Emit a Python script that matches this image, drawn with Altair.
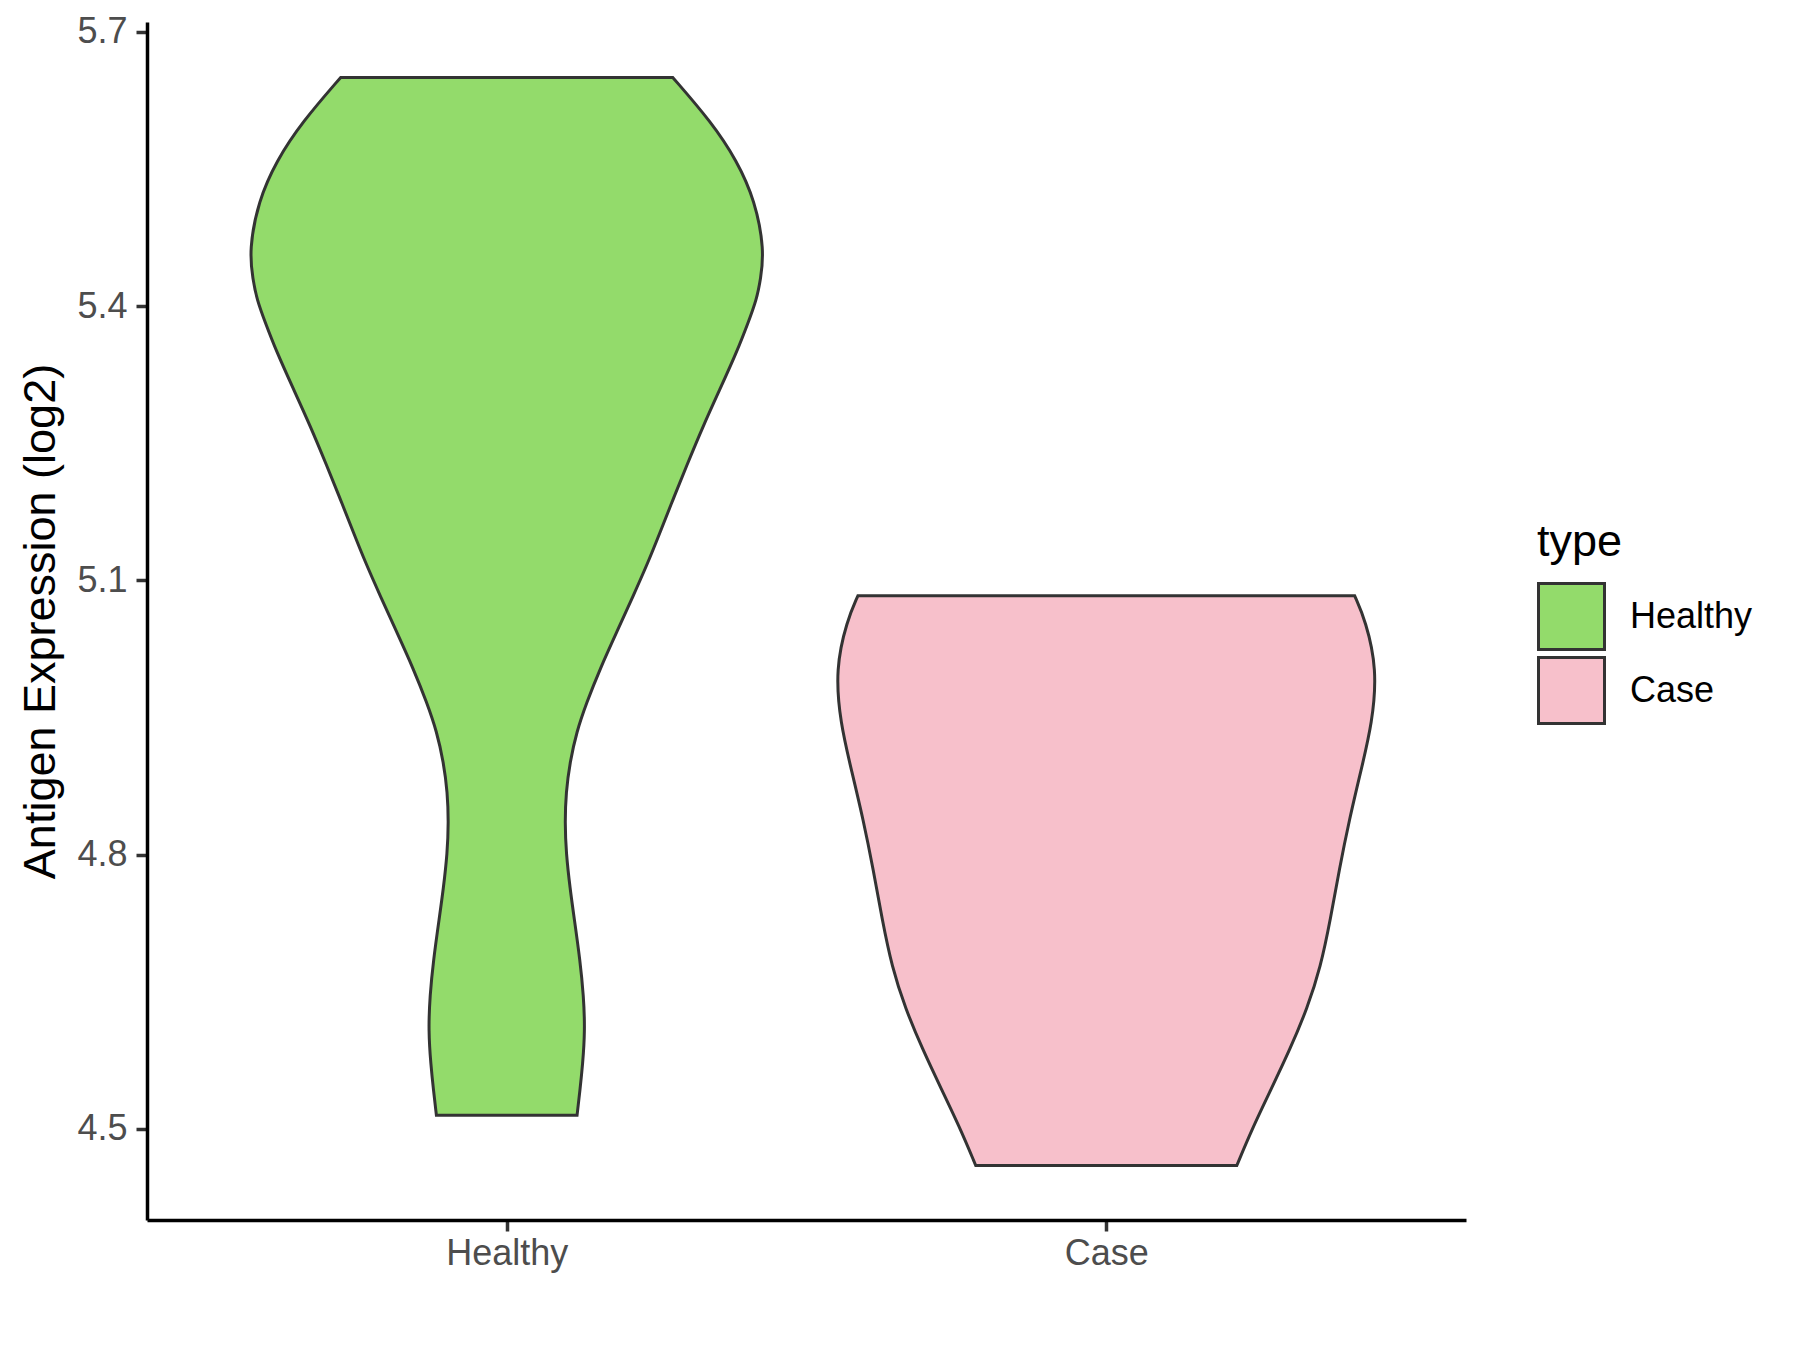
import altair as alt
import pandas as pd

# ---- data (value in log2, half-width in category units) ----
healthy_y = [5.650, 5.601, 5.559, 5.515, 5.461, 5.429, 5.407, 5.382, 5.349, 5.309,
             5.269, 5.225, 5.189, 5.152, 5.120, 5.083, 5.043, 5.003, 4.966, 4.934,
             4.901, 4.868, 4.835, 4.802, 4.762, 4.731, 4.684, 4.646, 4.608, 4.570,
             4.542, 4.515]
healthy_hw = [0.2769, 0.3416, 0.3840, 0.4143, 0.4297, 0.4234, 0.4167, 0.4028, 0.3833, 0.3556,
              0.3278, 0.2999, 0.2777, 0.2555, 0.2360, 0.2110, 0.1832, 0.1555, 0.1331, 0.1164,
              0.1054, 0.0988, 0.0971, 0.0990, 0.1058, 0.1124, 0.1224, 0.1281, 0.1306, 0.1266,
              0.1221, 0.1173]

case_y = [5.083, 5.056, 5.003, 4.944, 4.891, 4.838, 4.784, 4.730, 4.677, 4.632,
          4.587, 4.543, 4.499, 4.460]
case_hw = [0.4143, 0.4325, 0.4517, 0.4437, 0.4245, 0.4053, 0.3887, 0.3741, 0.3575, 0.3353,
           0.3064, 0.2746, 0.2425, 0.2177]

categories = ["Healthy", "Case"]
colors = ["#93DB6B", "#F7C0CB"]
y_ticks = [4.5, 4.8, 5.1, 5.4, 5.7]

rows = []
for pos, (name, ys, hws) in enumerate([("Healthy", healthy_y, healthy_hw),
                                        ("Case", case_y, case_hw)], start=1):
    for y, hw in zip(ys, hws):
        rows.append({"type": name, "value": y, "lo": pos - hw, "hi": pos + hw})
df = pd.DataFrame(rows)

label_expr = "datum.value == 1 ? 'Healthy' : (datum.value == 2 ? 'Case' : '')"

chart = alt.Chart(df).mark_area(
    orient="horizontal",
    interpolate="basis",
    stroke="#333333",
    strokeWidth=3,
    opacity=1,
    fillOpacity=1,
).encode(
    y=alt.Y("value:Q",
            scale=alt.Scale(domain=[4.4004, 5.7106], nice=False, zero=False),
            axis=alt.Axis(title="Antigen Expression (log2)", values=y_ticks, format=".1f",
                          labelPadding=9, titlePadding=13)),
    x=alt.X("lo:Q",
            scale=alt.Scale(domain=[0.4, 2.6], nice=False, zero=False),
            axis=alt.Axis(title=None, values=[1, 2], labelExpr=label_expr, labelPadding=5)),
    x2="hi:Q",
    fill=alt.Fill("type:N",
                  scale=alt.Scale(domain=categories, range=colors),
                  legend=alt.Legend(title="type", orient="none", legendX=1390, legendY=498,
                                    symbolType="square", symbolSize=4356,
                                    symbolStrokeColor="#333333", symbolStrokeWidth=3,
                                    titlePadding=17, labelOffset=24, rowPadding=-7,
                                    titleFontSize=45, labelFontSize=36,
                                    titleFontWeight="normal", titleColor="black",
                                    labelColor="black", titleFont="Liberation Sans",
                                    labelFont="Liberation Sans")),
    detail="type:N",
).properties(
    width=1319,
    height=1198,
    autosize=alt.AutoSizeParams(type="none"),
    padding={"left": 139, "top": 14, "right": 300, "bottom": 120},
).configure_view(
    stroke=None
).configure_axis(
    grid=False,
    domainColor="black",
    domainWidth=3.5,
    tickColor="#333333",
    tickWidth=3.5,
    tickSize=11,
    labelFont="Liberation Sans",
    labelFontSize=36,
    labelColor="#4D4D4D",
    titleFont="Liberation Sans",
    titleFontSize=45,
    titleFontWeight="normal",
    titleColor="black",
)

chart.save("out.html", embed_options={"renderer": "svg", "actions": False})
